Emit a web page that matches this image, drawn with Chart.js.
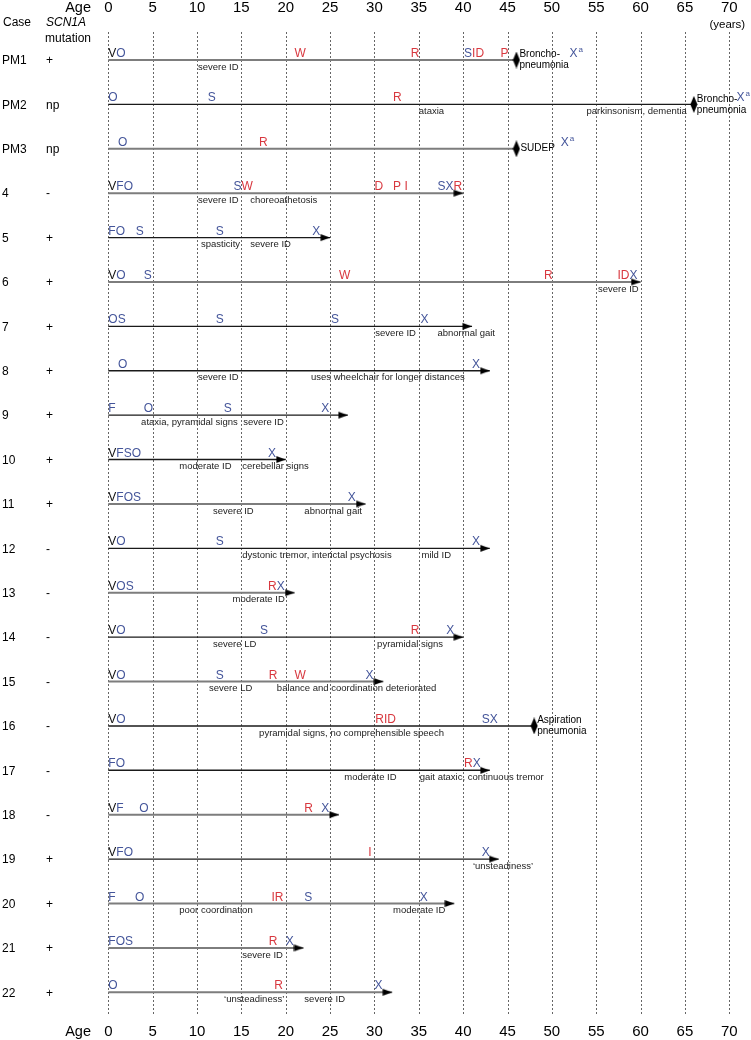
<!DOCTYPE html>
<html><head><meta charset="utf-8">
<script src="https://cdn.jsdelivr.net/npm/chart.js@4"></script>
<style>html,body{margin:0;padding:0;background:#fff;}#wrap{width:751px;height:1040px;position:relative;}</style>
</head><body><div id="wrap"><canvas id="c" width="751" height="1040"></canvas></div>
<script>
// ---------- DATA ----------
const ageTicks = [0,5,10,15,20,25,30,35,40,45,50,55,60,65,70];
const cases = ['PM1','PM2','PM3','4','5','6','7','8','9','10','11','12','13','14','15','16','17','18','19','20','21','22'];
const mutation = ['+','np','np','-','+','+','+','+','+','+','+','-','-','-','-','-','-','-','+','+','+','+'];
const endAge = [46,66,46,40,25,60,41,43,27,20,29,43,21,40,31,48,43,26,44,39,22,32];
const endType = ['death','death','death','arrow','arrow','arrow','arrow','arrow','arrow','arrow','arrow','arrow','arrow','arrow','arrow','death','arrow','arrow','arrow','arrow','arrow','arrow'];
const deathCause = {0:['Broncho-','pneumonia'],1:['Broncho-','pneumonia'],2:['SUDEP'],15:['Aspiration','pneumonia']};
// events: [age at left edge, letters]
const events = [
  [[0,'VO'],[21.0,'W'],[34.1,'R'],[40.1,'SID'],[44.2,'P'],[52.0,'X^a']],
  [[0,'O'],[11.2,'S'],[32.1,'R'],[70.8,'X^a']],
  [[1.1,'O'],[17.0,'R'],[51.0,'X^a']],
  [[0,'VFO'],[14.1,'SW'],[30.0,'D'],[32.1,'P'],[33.4,'I'],[37.1,'SXR']],
  [[0,'FO'],[3.1,'S'],[12.1,'S'],[23.0,'X']],
  [[0,'VO'],[4.0,'S'],[26.0,'W'],[49.1,'R'],[57.4,'IDX']],
  [[0,'OS'],[12.1,'S'],[25.1,'S'],[35.2,'X']],
  [[1.1,'O'],[41.0,'X']],
  [[0,'F'],[4.0,'O'],[13.0,'S'],[24.0,'X']],
  [[0,'VFSO'],[18.0,'X']],
  [[0,'VFOS'],[27.0,'X']],
  [[0,'VO'],[12.1,'S'],[41.0,'X']],
  [[0,'VOS'],[18.0,'RX']],
  [[0,'VO'],[17.1,'S'],[34.1,'R'],[38.1,'X']],
  [[0,'VO'],[12.1,'S'],[18.1,'R'],[21.0,'W'],[29.0,'X']],
  [[0,'VO'],[30.1,'RID'],[42.1,'SX']],
  [[0,'FO'],[40.1,'RX']],
  [[0,'VF'],[3.5,'O'],[22.1,'R'],[24.0,'X']],
  [[0,'VFO'],[29.3,'I'],[42.1,'X']],
  [[0,'F'],[3.0,'O'],[18.4,'IR'],[22.1,'S'],[35.1,'X']],
  [[0,'FOS'],[18.1,'R'],[20.0,'X']],
  [[0,'O'],[18.7,'R'],[30.0,'X']]
];
// notes below the line: [age at left edge, text]
const notes = [
  [[10.1,'severe ID']],
  [[35.0,'ataxia'],[53.9,'parkinsonism, dementia']],
  [],
  [[10.1,'severe ID'],[16.0,'choreoathetosis']],
  [[10.45,'spasticity'],[16.0,'severe ID']],
  [[55.2,'severe ID']],
  [[30.1,'severe ID'],[37.1,'abnormal gait']],
  [[10.1,'severe ID'],[22.85,'uses wheelchair for longer distances']],
  [[3.7,'ataxia, pyramidal signs'],[15.2,'severe ID']],
  [[8.0,'moderate ID'],[15.1,'cerebellar signs']],
  [[11.8,'severe ID'],[22.1,'abnormal gait']],
  [[15.1,'dystonic tremor, interictal psychosis'],[35.3,'mild ID']],
  [[14.0,'moderate ID']],
  [[11.8,'severe LD'],[30.3,'pyramidal signs']],
  [[11.35,'severe LD'],[19.0,'balance and coordination deteriorated']],
  [[17.0,'pyramidal signs, no comprehensible speech']],
  [[26.6,'moderate ID'],[35.1,'gait ataxic, continuous tremor']],
  [],
  [[41.1,'\u2018unsteadiness\u2019']],
  [[8.0,'poor coordination'],[32.1,'moderate ID']],
  [[15.1,'severe ID']],
  [[13.05,'\u2018unsteadiness\u2019'],[22.1,'severe ID']]
];

// ---------- STYLE ----------
const FONT = "'Liberation Sans', Arial, Helvetica, sans-serif";
const BLUE = '#44559a', RED = '#d8383f', BLACK = '#111';
const letterColor = {V:BLACK,F:BLUE,O:BLUE,S:BLUE,X:BLUE,W:RED,R:RED,I:RED,D:RED,P:RED};
const grayRows = [0,2,3,5,10,12,14,17,19,20,21];

function makeArrow(){
  const c=document.createElement('canvas'); c.width=20; c.height=9;
  const g=c.getContext('2d'); g.fillStyle='#000';
  g.beginPath(); g.moveTo(10,4.5); g.lineTo(0.5,1); g.lineTo(0.5,8); g.closePath(); g.fill();
  return c;
}
function makeDiamond(){
  const c=document.createElement('canvas'); c.width=8; c.height=17;
  const g=c.getContext('2d'); g.fillStyle='#000';
  g.beginPath(); g.moveTo(4,0); g.lineTo(7.5,8.5); g.lineTo(4,17); g.lineTo(0.5,8.5); g.closePath(); g.fill();
  return c;
}

const datasets = [];
cases.forEach((c,i)=>{
  const gray = grayRows.includes(i);
  datasets.push({type:'line',order:1,data:[{x:0,y:i},{x:endAge[i],y:i}],borderColor:gray?'#7d7d7d':'#1a1a1a',
    borderWidth:gray?2:1.4,pointRadius:0,showLine:true,fill:false,clip:false});
});
datasets.push({type:'scatter',order:-1,data:endAge.map((a,i)=>({x:a,y:i})).filter((p,i)=>endType[i]==='arrow'),
  pointStyle:makeArrow(),pointRadius:5,clip:false});
datasets.push({type:'scatter',order:-1,data:endAge.map((a,i)=>({x:a,y:i})).filter((p,i)=>endType[i]==='death'),
  pointStyle:makeDiamond(),pointRadius:5,clip:false});

const ROW_PX = 44.395;
const yMin = -28/ROW_PX;
const yMax = yMin + 983/ROW_PX;

const deco = {
  id:'deco',
  beforeDatasetsDraw(chart){
    const ctx=chart.ctx, xs=chart.scales.x, ys=chart.scales.y, a=chart.chartArea;
    ctx.save();
    ctx.strokeStyle='#666'; ctx.lineWidth=1; ctx.setLineDash([2,2]);
    ageTicks.forEach(t=>{const x=Math.round(xs.getPixelForValue(t))+0.5;ctx.beginPath();ctx.moveTo(x,a.top);ctx.lineTo(x,a.bottom);ctx.stroke();});
    ctx.setLineDash([]);
    ctx.fillStyle='#000'; ctx.font='15px '+FONT; ctx.textBaseline='alphabetic'; ctx.textAlign='center';
    ageTicks.forEach(t=>{const x=xs.getPixelForValue(t); ctx.fillText(String(t),x,11.5); ctx.fillText(String(t),x,1035.5);});
    ctx.textAlign='right'; ctx.font='14.5px '+FONT; ctx.fillText('Age',91,11.5); ctx.fillText('Age',91,1035.5);
    ctx.textAlign='center'; ctx.font='11.5px '+FONT; ctx.textBaseline='middle';
    ctx.fillText('(years)',xs.getPixelForValue(70)-2,25);
    ctx.textAlign='left'; ctx.font='12px '+FONT;
    ctx.fillText('Case',3,23);
    ctx.font='italic 12px '+FONT; ctx.fillText('SCN1A',46,23);
    ctx.font='12px '+FONT; ctx.fillText('mutation',45,39);
    cases.forEach((c,i)=>{const y=ys.getPixelForValue(i); ctx.fillText(c,2,y+1); ctx.fillText(mutation[i],46,y+1);});
    ctx.restore();
  },
  afterDatasetsDraw(chart){
    const ctx=chart.ctx, xs=chart.scales.x, ys=chart.scales.y;
    ctx.save();
    events.forEach((row,i)=>{
      const y=ys.getPixelForValue(i);
      row.forEach(([age,txt])=>{
        let x=xs.getPixelForValue(age);
        ctx.textBaseline='alphabetic'; ctx.textAlign='left';
        for(let k=0;k<txt.length;k++){
          const ch=txt[k];
          if(ch==='^'){ const s=txt[k+1]; k++; ctx.font='8px '+FONT; ctx.fillStyle=BLUE; ctx.fillText(s,x+1,y-8); x+=ctx.measureText(s).width+1; continue; }
          ctx.font='12px '+FONT; ctx.fillStyle=letterColor[ch]||BLACK;
          ctx.fillText(ch,x,y-3); x+=ctx.measureText(ch).width;
        }
      });
    });
    ctx.fillStyle='#222'; ctx.font='9.5px '+FONT; ctx.textBaseline='middle'; ctx.textAlign='left';
    notes.forEach((row,i)=>{const y=ys.getPixelForValue(i); row.forEach(([age,txt])=>ctx.fillText(txt,xs.getPixelForValue(age),y+7));});
    ctx.fillStyle='#000'; ctx.font='10px '+FONT;
    Object.keys(deathCause).forEach(k=>{
      const i=+k, lines=deathCause[k], x=xs.getPixelForValue(endAge[i])+3, y=ys.getPixelForValue(i);
      if(lines.length===1) ctx.fillText(lines[0],x+1,y-1);
      else { ctx.fillText(lines[0],x,y-5.5); ctx.fillText(lines[1],x,y+5.5); }
    });
    ctx.restore();
  }
};

new Chart(document.getElementById('c'),{
  type:'scatter',
  data:{datasets},
  options:{
    responsive:false, animation:false, devicePixelRatio:1,
    layout:{padding:{left:108.3,right:21.7,top:32,bottom:25}},
    plugins:{legend:{display:false},tooltip:{enabled:false}},
    scales:{
      x:{type:'linear',min:0,max:70,display:false},
      y:{type:'linear',min:yMin,max:yMax,reverse:true,display:false}
    }
  },
  plugins:[deco]
});
</script></body></html>
